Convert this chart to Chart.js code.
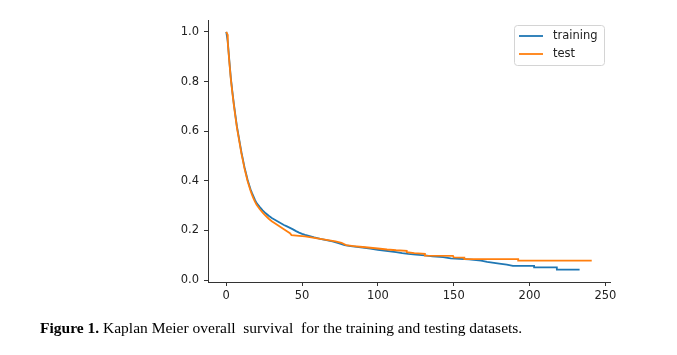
<!DOCTYPE html>
<html>
<head>
<meta charset="utf-8">
<script src="https://cdn.jsdelivr.net/npm/chart.js@4.4.1/dist/chart.umd.min.js"></script>
<style>
  html, body { margin: 0; padding: 0; background: #fff; }
  #wrap { position: relative; width: 677px; height: 355px; overflow: hidden; }
  #c { position: absolute; left: 0; top: 0; }
  #cap { position: absolute; left: 40px; top: 320px; font-family: "Liberation Serif", "Times New Roman", serif;
         font-size: 15.5px; line-height: 15px; color: #000; white-space: nowrap; }
</style>
</head>
<body>
<div id="wrap">
  <canvas id="c" width="677" height="355"></canvas>
  <div id="cap"><b>Figure 1.</b> Kaplan Meier overall&nbsp; survival&nbsp; for the training and testing datasets.</div>
</div>
<script>
const xTicks = [0, 50, 100, 150, 200, 250];
const yTicks = [0.0, 0.2, 0.4, 0.6, 0.8, 1.0];
const seriesNames = ["training", "test"];

// Kaplan-Meier curve vertices (time, survival)
const trainTime = [0,1,2,3,4,5,6,7,8,9,10,11,12,13,14,15,16,17,18,19,20,22,24,26,28,30,32,34,36,38,40,42,44,46,48,50,52,55,58,62,66,70,74,78,82,86,90,95,100,104,108,112,116,120,125,131,136,143,148,160,168,172,180,185,189,203,203,218,218,233];
const trainSurv = [1.0,0.96,0.885,0.815,0.76,0.71,0.665,0.62,0.585,0.55,0.515,0.485,0.455,0.43,0.405,0.385,0.366,0.35,0.336,0.322,0.31,0.295,0.281,0.269,0.259,0.25,0.243,0.236,0.229,0.222,0.216,0.21,0.204,0.197,0.191,0.186,0.182,0.177,0.172,0.166,0.161,0.156,0.149,0.141,0.137,0.134,0.131,0.127,0.122,0.119,0.115,0.112,0.108,0.105,0.102,0.099,0.095,0.092,0.087,0.083,0.078,0.073,0.066,0.062,0.057,0.057,0.051,0.051,0.042,0.042];

const testTime = [0,0.8,1,2,3,4,5,6,7,8,9,10,11,12,13,14,15,16,17,18,19,20,22,24,26,28,30,32,34,36,38,40,42,43,48,52,56,60,64,68,72,76,79,84,90,95,100,106,112,119,119,124,131,131,149.5,150,157,157,192.5,192.5,241];
const testSurv = [1.0,0.99,0.955,0.88,0.81,0.755,0.705,0.66,0.615,0.58,0.545,0.51,0.48,0.45,0.425,0.4,0.38,0.36,0.343,0.328,0.315,0.303,0.286,0.272,0.259,0.247,0.237,0.229,0.221,0.213,0.205,0.197,0.189,0.181,0.178,0.176,0.172,0.168,0.164,0.16,0.156,0.15,0.141,0.137,0.133,0.13,0.127,0.123,0.12,0.118,0.112,0.108,0.105,0.098,0.097,0.091,0.09,0.084,0.084,0.078,0.078];

const toPts = (t, s) => t.map((v, i) => ({ x: v, y: s[i] }));

const FONT = "DejaVu Sans";

const legendPlugin = {
  id: 'mplLegend',
  afterDraw(chart) {
    const ctx = chart.ctx;
    const x0 = 514.5, y0 = 25.5, w = 90, h = 40;
    ctx.save();
    ctx.beginPath();
    if (ctx.roundRect) ctx.roundRect(x0, y0, w, h, 3); else ctx.rect(x0, y0, w, h);
    ctx.fillStyle = 'rgba(255,255,255,0.8)';
    ctx.fill();
    ctx.strokeStyle = '#d4d4d4';
    ctx.lineWidth = 1;
    ctx.stroke();
    ctx.font = '11.5px "' + FONT + '"';
    ctx.textBaseline = 'middle';
    ctx.fillStyle = '#222';
    chart.data.datasets.forEach((ds, i) => {
      const yy = 36 + i * 18;
      ctx.beginPath();
      ctx.strokeStyle = ds.borderColor;
      ctx.lineWidth = 1.8;
      ctx.moveTo(519, yy);
      ctx.lineTo(543, yy);
      ctx.stroke();
      ctx.fillText(ds.label, 553, yy);
    });
    ctx.restore();
  }
};

new Chart(document.getElementById('c'), {
  type: 'line',
  data: {
    datasets: [
      { label: seriesNames[0], data: toPts(trainTime, trainSurv), borderColor: '#1f77b4', backgroundColor: '#1f77b4',
        borderWidth: 1.8, pointRadius: 0, tension: 0, fill: false, order: 1 },
      { label: seriesNames[1], data: toPts(testTime, testSurv), borderColor: '#ff7f0e', backgroundColor: '#ff7f0e',
        borderWidth: 1.8, pointRadius: 0, tension: 0, fill: false, order: 0 }
    ]
  },
  options: {
    responsive: false,
    animation: false,
    events: [],
    layout: { padding: { left: 148, right: 67, top: 20, bottom: 33 } },
    plugins: { legend: { display: false }, tooltip: { enabled: false } },
    scales: {
      x: {
        type: 'linear', min: -12.05, max: 253.05,
        afterBuildTicks: (s) => { s.ticks = xTicks.map(v => ({ value: v })); },
        afterFit: (s) => { s.height = 40; },
        grid: { display: true, drawOnChartArea: false, drawTicks: true, tickLength: 4, tickColor: '#333', tickWidth: 1 },
        border: { display: true, color: '#333', width: 1 },
        ticks: { color: '#222', font: { family: FONT, size: 11.5 }, padding: 3, maxRotation: 0,
                 callback: (v) => String(v) }
      },
      y: {
        type: 'linear', min: -0.008, max: 1.048,
        afterBuildTicks: (s) => { s.ticks = yTicks.map(v => ({ value: v })); },
        afterFit: (s) => { s.width = 60; },
        grid: { display: true, drawOnChartArea: false, drawTicks: true, tickLength: 4, tickColor: '#333', tickWidth: 1 },
        border: { display: true, color: '#333', width: 1 },
        ticks: { color: '#222', font: { family: FONT, size: 11.5 }, padding: 5,
                 callback: (v) => Number(v).toFixed(1) }
      }
    }
  },
  plugins: [legendPlugin]
});
</script>
</body>
</html>
